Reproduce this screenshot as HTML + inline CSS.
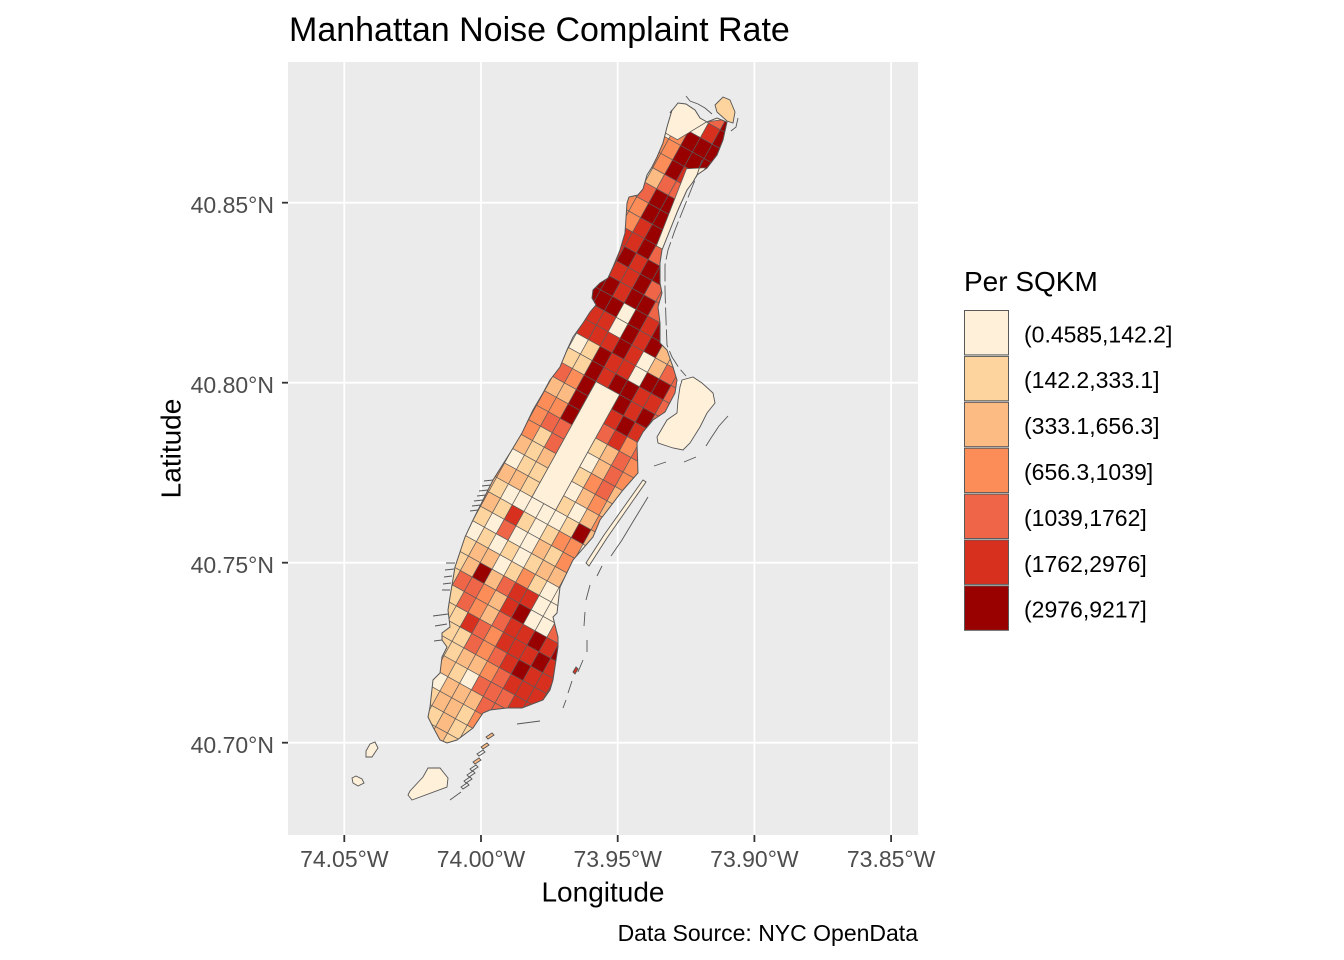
<!DOCTYPE html>
<html>
<head>
<meta charset="utf-8">
<style>
html,body{margin:0;padding:0;background:#fff;}
svg{display:block;}
.L{fill:#FEF0D9}.Y{fill:#FDD49E}.P{fill:#FDBB84}.O{fill:#FC8D59}.S{fill:#EF6548}.R{fill:#D7301F}.D{fill:#990000}
text{font-family:"Liberation Sans",Arial,sans-serif;}
</style>
</head>
<body>
<svg width="1344" height="960" viewBox="0 0 1344 960" xmlns="http://www.w3.org/2000/svg">
<defs>
<clipPath id="isl">
<path d="M670,113 L678,103 L686,104 L695,110 L700,118 L707,122 L717,118 L727,122 L723,140 L717,155 L707,168 L697,175 L693,182 L687,190 L678,210 L670,230 L662,250 L660,263 L660,283 L662,293 L658,307 L660,323 L660,343 L667,350 L673,367 L677,380 L675,393 L665,412 L653,420 L643,432 L637,443 L638,473 L623,490 L600,520 L593,537 L573,560 L560,587 L557,613 L553,617 L558,637 L558,647 L553,680 L550,690 L543,700 L522,708 L507,708 L490,710 L483,713 L473,728 L457,740 L447,743 L440,740 L433,727 L428,717 L430,707 L433,680 L440,673 L442,657 L447,647 L442,640 L442,633 L450,627 L448,610 L450,597 L455,567 L465,537 L473,520 L493,480 L510,453 L522,433 L533,410 L543,393 L550,380 L560,367 L567,350 L573,337 L583,323 L590,312 L596,305 L592,298 L593,290 L600,283 L608,278 L613,267 L620,250 L625,233 L627,203 L629,197 L638,195 L643,189 L647,175 L652,167 L657,157 L663,143 L667,127 L672,110 Z"/>
</clipPath>
</defs>

<rect x="0" y="0" width="1344" height="960" fill="#ffffff"/>

<!-- panel -->
<rect x="288" y="62" width="630" height="773" fill="#EBEBEB"/>
<g stroke="#ffffff" stroke-width="1.8">
<line x1="344.3" y1="62" x2="344.3" y2="835"/>
<line x1="481" y1="62" x2="481" y2="835"/>
<line x1="617.7" y1="62" x2="617.7" y2="835"/>
<line x1="754.4" y1="62" x2="754.4" y2="835"/>
<line x1="891.1" y1="62" x2="891.1" y2="835"/>
<line x1="288" y1="202.7" x2="918" y2="202.7"/>
<line x1="288" y1="382.7" x2="918" y2="382.7"/>
<line x1="288" y1="562.7" x2="918" y2="562.7"/>
<line x1="288" y1="742.7" x2="918" y2="742.7"/>
</g>

<!-- Manhattan -->
<g clip-path="url(#isl)">
 <g transform="translate(532 497) rotate(29)">
  <g transform="scale(13.5 16.5)">
   <rect class="L" x="-7" y="-28" width="16" height="1"/>
   <rect class="L" x="-7" y="-27" width="16" height="1"/>
   <rect class="L" x="-7" y="-26" width="5" height="1"/><rect class="S" x="-2" y="-26" width="1" height="1"/><rect class="D" x="-1" y="-26" width="10" height="1"/>
   <rect class="L" x="-7" y="-25" width="5" height="1"/><rect class="R" x="-2" y="-25" width="1" height="1"/><rect class="D" x="-1" y="-25" width="10" height="1"/>
   <rect class="L" x="-7" y="-24" width="3" height="1"/><rect class="O" x="-4" y="-24" width="1" height="1"/><rect class="D" x="-3" y="-24" width="12" height="1"/>
   <rect class="O" x="-7" y="-23" width="4" height="1"/><rect class="D" x="-3" y="-23" width="12" height="1"/>
   <rect class="O" x="-7" y="-22" width="4" height="1"/><rect class="D" x="-3" y="-22" width="1" height="1"/><rect class="R" x="-2" y="-22" width="11" height="1"/>
   <rect class="L" x="-7" y="-21" width="3" height="1"/><rect class="P" x="-4" y="-21" width="1" height="1"/><rect class="S" x="-3" y="-21" width="12" height="1"/>
   <rect class="L" x="-7" y="-20" width="3" height="1"/><rect class="S" x="-4" y="-20" width="1" height="1"/><rect class="D" x="-3" y="-20" width="12" height="1"/>
   <rect class="O" x="-7" y="-19" width="4" height="1"/><rect class="D" x="-3" y="-19" width="12" height="1"/>
   <rect class="O" x="-7" y="-18" width="4" height="1"/><rect class="R" x="-3" y="-18" width="1" height="1"/><rect class="D" x="-2" y="-18" width="1" height="1"/><rect class="S" x="-1" y="-18" width="10" height="1"/>
   <rect class="R" x="-7" y="-17" width="5" height="1"/><rect class="D" x="-2" y="-17" width="1" height="1"/><rect class="S" x="-1" y="-17" width="10" height="1"/>
   <rect class="R" x="-7" y="-16" width="4" height="1"/><rect class="D" x="-3" y="-16" width="1" height="1"/><rect class="R" x="-2" y="-16" width="1" height="1"/><rect class="D" x="-1" y="-16" width="10" height="1"/>
   <rect class="R" x="-7" y="-15" width="6" height="1"/><rect class="D" x="-1" y="-15" width="1" height="1"/><rect class="S" x="0" y="-15" width="9" height="1"/>
   <rect class="D" x="-7" y="-14" width="5" height="1"/><rect class="R" x="-2" y="-14" width="1" height="1"/><rect class="D" x="-1" y="-14" width="2" height="1"/><rect class="S" x="1" y="-14" width="8" height="1"/>
   <rect class="D" x="-7" y="-13" width="6" height="1"/><rect class="L" x="-1" y="-13" width="1" height="1"/><rect class="D" x="0" y="-13" width="1" height="1"/><rect class="R" x="1" y="-13" width="1" height="1"/><rect class="D" x="2" y="-13" width="7" height="1"/>
   <rect class="O" x="-7" y="-12" width="4" height="1"/><rect class="R" x="-3" y="-12" width="2" height="1"/><rect class="L" x="-1" y="-12" width="1" height="1"/><rect class="D" x="0" y="-12" width="1" height="1"/><rect class="R" x="1" y="-12" width="1" height="1"/><rect class="D" x="2" y="-12" width="1" height="1"/><rect class="P" x="3" y="-12" width="6" height="1"/>
   <rect class="O" x="-7" y="-11" width="4" height="1"/><rect class="R" x="-3" y="-11" width="3" height="1"/><rect class="D" x="0" y="-11" width="1" height="1"/><rect class="R" x="1" y="-11" width="1" height="1"/><rect class="L" x="2" y="-11" width="1" height="1"/><rect class="P" x="3" y="-11" width="1" height="1"/><rect class="S" x="4" y="-11" width="5" height="1"/>
   <rect class="L" x="-7" y="-10" width="5" height="1"/><rect class="Y" x="-2" y="-10" width="1" height="1"/><rect class="D" x="-1" y="-10" width="1" height="1"/><rect class="R" x="0" y="-10" width="2" height="1"/><rect class="L" x="2" y="-10" width="1" height="1"/><rect class="D" x="3" y="-10" width="2" height="1"/><rect class="S" x="5" y="-10" width="4" height="1"/>
   <rect class="L" x="-7" y="-9" width="4" height="1"/><rect class="Y" x="-3" y="-9" width="2" height="1"/><rect class="D" x="-1" y="-9" width="1" height="1"/><rect class="R" x="0" y="-9" width="1" height="1"/><rect class="D" x="1" y="-9" width="2" height="1"/><rect class="R" x="3" y="-9" width="2" height="1"/><rect class="S" x="5" y="-9" width="4" height="1"/>
   <rect class="S" x="-7" y="-8" width="5" height="1"/><rect class="O" x="-2" y="-8" width="1" height="1"/><rect class="D" x="-1" y="-8" width="1" height="1"/><rect class="L" x="0" y="-8" width="2" height="1"/><rect class="D" x="2" y="-8" width="1" height="1"/><rect class="R" x="3" y="-8" width="1" height="1"/><rect class="D" x="4" y="-8" width="1" height="1"/><rect class="S" x="5" y="-8" width="4" height="1"/>
   <rect class="O" x="-7" y="-7" width="4" height="1"/><rect class="P" x="-3" y="-7" width="2" height="1"/><rect class="D" x="-1" y="-7" width="1" height="1"/><rect class="L" x="0" y="-7" width="2" height="1"/><rect class="R" x="2" y="-7" width="1" height="1"/><rect class="D" x="3" y="-7" width="1" height="1"/><rect class="R" x="4" y="-7" width="1" height="1"/><rect class="S" x="5" y="-7" width="4" height="1"/>
   <rect class="Y" x="-7" y="-6" width="4" height="1"/><rect class="O" x="-3" y="-6" width="2" height="1"/><rect class="D" x="-1" y="-6" width="1" height="1"/><rect class="L" x="0" y="-6" width="2" height="1"/><rect class="S" x="2" y="-6" width="1" height="1"/><rect class="R" x="3" y="-6" width="1" height="1"/><rect class="O" x="4" y="-6" width="1" height="1"/><rect class="S" x="5" y="-6" width="4" height="1"/>
   <rect class="O" x="-7" y="-5" width="5" height="1"/><rect class="S" x="-2" y="-5" width="2" height="1"/><rect class="L" x="0" y="-5" width="2" height="1"/><rect class="Y" x="2" y="-5" width="1" height="1"/><rect class="P" x="3" y="-5" width="1" height="1"/><rect class="S" x="4" y="-5" width="1" height="1"/><rect class="O" x="5" y="-5" width="4" height="1"/>
   <rect class="P" x="-7" y="-4" width="4" height="1"/><rect class="O" x="-3" y="-4" width="1" height="1"/><rect class="Y" x="-2" y="-4" width="1" height="1"/><rect class="S" x="-1" y="-4" width="1" height="1"/><rect class="L" x="0" y="-4" width="3" height="1"/><rect class="P" x="3" y="-4" width="1" height="1"/><rect class="S" x="4" y="-4" width="1" height="1"/><rect class="O" x="5" y="-4" width="4" height="1"/>
   <rect class="P" x="-7" y="-3" width="5" height="1"/><rect class="Y" x="-2" y="-3" width="1" height="1"/><rect class="P" x="-1" y="-3" width="1" height="1"/><rect class="L" x="0" y="-3" width="2" height="1"/><rect class="Y" x="2" y="-3" width="1" height="1"/><rect class="O" x="3" y="-3" width="1" height="1"/><rect class="S" x="4" y="-3" width="1" height="1"/><rect class="P" x="5" y="-3" width="4" height="1"/>
   <rect class="L" x="-7" y="-2" width="5" height="1"/><rect class="Y" x="-2" y="-2" width="2" height="1"/><rect class="L" x="0" y="-2" width="3" height="1"/><rect class="P" x="3" y="-2" width="1" height="1"/><rect class="O" x="4" y="-2" width="1" height="1"/><rect class="P" x="5" y="-2" width="4" height="1"/>
   <rect class="O" x="-7" y="-1" width="4" height="1"/><rect class="P" x="-3" y="-1" width="2" height="1"/><rect class="Y" x="-1" y="-1" width="1" height="1"/><rect class="L" x="0" y="-1" width="2" height="1"/><rect class="Y" x="2" y="-1" width="1" height="1"/><rect class="L" x="3" y="-1" width="1" height="1"/><rect class="P" x="4" y="-1" width="1" height="1"/><rect class="O" x="5" y="-1" width="4" height="1"/>
   <rect class="P" x="-7" y="0" width="4" height="1"/><rect class="Y" x="-3" y="0" width="1" height="1"/><rect class="L" x="-2" y="0" width="5" height="1"/><rect class="Y" x="3" y="0" width="1" height="1"/><rect class="D" x="4" y="0" width="1" height="1"/><rect class="P" x="5" y="0" width="4" height="1"/>
   <rect class="O" x="-7" y="1" width="4" height="1"/><rect class="P" x="-3" y="1" width="1" height="1"/><rect class="Y" x="-2" y="1" width="1" height="1"/><rect class="R" x="-1" y="1" width="1" height="1"/><rect class="Y" x="0" y="1" width="1" height="1"/><rect class="L" x="1" y="1" width="1" height="1"/><rect class="Y" x="2" y="1" width="1" height="1"/><rect class="O" x="3" y="1" width="2" height="1"/><rect class="L" x="5" y="1" width="4" height="1"/>
   <rect class="P" x="-7" y="2" width="4" height="1"/><rect class="Y" x="-3" y="2" width="1" height="1"/><rect class="L" x="-2" y="2" width="1" height="1"/><rect class="S" x="-1" y="2" width="1" height="1"/><rect class="L" x="0" y="2" width="2" height="1"/><rect class="P" x="2" y="2" width="1" height="1"/><rect class="Y" x="3" y="2" width="1" height="1"/><rect class="O" x="4" y="2" width="5" height="1"/>
   <rect class="L" x="-7" y="3" width="5" height="1"/><rect class="Y" x="-2" y="3" width="1" height="1"/><rect class="L" x="-1" y="3" width="1" height="1"/><rect class="Y" x="0" y="3" width="1" height="1"/><rect class="L" x="1" y="3" width="1" height="1"/><rect class="Y" x="2" y="3" width="1" height="1"/><rect class="P" x="3" y="3" width="6" height="1"/>
   <rect class="Y" x="-7" y="4" width="5" height="1"/><rect class="P" x="-2" y="4" width="2" height="1"/><rect class="L" x="0" y="4" width="1" height="1"/><rect class="Y" x="1" y="4" width="1" height="1"/><rect class="O" x="2" y="4" width="1" height="1"/><rect class="Y" x="3" y="4" width="1" height="1"/><rect class="L" x="4" y="4" width="5" height="1"/>
   <rect class="Y" x="-7" y="5" width="5" height="1"/><rect class="P" x="-2" y="5" width="1" height="1"/><rect class="D" x="-1" y="5" width="1" height="1"/><rect class="P" x="0" y="5" width="1" height="1"/><rect class="S" x="1" y="5" width="1" height="1"/><rect class="R" x="2" y="5" width="2" height="1"/><rect class="L" x="4" y="5" width="5" height="1"/>
   <rect class="Y" x="-7" y="6" width="5" height="1"/><rect class="S" x="-2" y="6" width="2" height="1"/><rect class="O" x="0" y="6" width="1" height="1"/><rect class="P" x="1" y="6" width="1" height="1"/><rect class="R" x="2" y="6" width="1" height="1"/><rect class="D" x="3" y="6" width="1" height="1"/><rect class="L" x="4" y="6" width="2" height="1"/><rect class="S" x="6" y="6" width="3" height="1"/>
   <rect class="Y" x="-7" y="7" width="6" height="1"/><rect class="S" x="-1" y="7" width="1" height="1"/><rect class="O" x="0" y="7" width="1" height="1"/><rect class="P" x="1" y="7" width="1" height="1"/><rect class="S" x="2" y="7" width="1" height="1"/><rect class="R" x="3" y="7" width="2" height="1"/><rect class="D" x="5" y="7" width="1" height="1"/><rect class="R" x="6" y="7" width="1" height="1"/><rect class="D" x="7" y="7" width="2" height="1"/>
   <rect class="Y" x="-7" y="8" width="7" height="1"/><rect class="R" x="0" y="8" width="1" height="1"/><rect class="S" x="1" y="8" width="1" height="1"/><rect class="O" x="2" y="8" width="1" height="1"/><rect class="R" x="3" y="8" width="3" height="1"/><rect class="D" x="6" y="8" width="1" height="1"/><rect class="R" x="7" y="8" width="2" height="1"/>
   <rect class="Y" x="-7" y="9" width="8" height="1"/><rect class="S" x="1" y="9" width="1" height="1"/><rect class="O" x="2" y="9" width="1" height="1"/><rect class="S" x="3" y="9" width="1" height="1"/><rect class="R" x="4" y="9" width="1" height="1"/><rect class="D" x="5" y="9" width="1" height="1"/><rect class="R" x="6" y="9" width="3" height="1"/>
   <rect class="Y" x="-7" y="10" width="8" height="1"/><rect class="P" x="1" y="10" width="2" height="1"/><rect class="O" x="3" y="10" width="1" height="1"/><rect class="S" x="4" y="10" width="1" height="1"/><rect class="R" x="5" y="10" width="4" height="1"/>
   <rect class="P" x="-7" y="11" width="8" height="1"/><rect class="Y" x="1" y="11" width="1" height="1"/><rect class="L" x="2" y="11" width="1" height="1"/><rect class="S" x="3" y="11" width="3" height="1"/><rect class="R" x="6" y="11" width="3" height="1"/>
   <rect class="L" x="-7" y="12" width="8" height="1"/><rect class="P" x="1" y="12" width="3" height="1"/><rect class="S" x="4" y="12" width="5" height="1"/>
   <rect class="Y" x="-7" y="13" width="8" height="1"/><rect class="P" x="1" y="13" width="2" height="1"/><rect class="Y" x="3" y="13" width="1" height="1"/><rect class="O" x="4" y="13" width="5" height="1"/>
   <rect class="Y" x="-7" y="14" width="9" height="1"/><rect class="P" x="2" y="14" width="1" height="1"/><rect class="Y" x="3" y="14" width="6" height="1"/>
   <rect class="Y" x="-7" y="15" width="9" height="1"/><rect class="P" x="2" y="15" width="1" height="1"/><rect class="Y" x="3" y="15" width="6" height="1"/>
   <rect class="Y" x="-7" y="16" width="16" height="1"/>
   <path fill="none" stroke="#5a5a5a" stroke-width="0.75" vector-effect="non-scaling-stroke" d="M-7 -28V17M-6 -28V17M-5 -28V17M-4 -28V17M-3 -28V17M-2 -28V17M-1 -28V17M0 -28V17M1 -28V17M2 -28V17M3 -28V17M4 -28V17M5 -28V17M6 -28V17M7 -28V17M8 -28V17M9 -28V17M-8 -28H10M-8 -27H10M-8 -26H10M-8 -25H10M-8 -24H10M-8 -23H10M-8 -22H10M-8 -21H10M-8 -20H10M-8 -19H10M-8 -18H10M-8 -17H10M-8 -16H10M-8 -15H10M-8 -14H10M-8 -13H10M-8 -12H10M-8 -11H10M-8 -10H10M-8 -9H10M-8 -8H10M-8 -7H10M-8 -6H10M-8 -5H10M-8 -4H10M-8 -3H10M-8 -2H10M-8 -1H10M-8 0H10M-8 1H10M-8 2H10M-8 3H10M-8 4H10M-8 5H10M-8 6H10M-8 7H10M-8 8H10M-8 9H10M-8 10H10M-8 11H10M-8 12H10M-8 13H10M-8 14H10M-8 15H10M-8 16H10M-8 17H10"/>
  </g>
  <!-- parks -->
  <polygon class="L" stroke="#5a5a5a" stroke-width="0.8" points="-80,-445 0,-445 -14,-424 -29,-413 -46,-383 -80,-383"/>
  <polygon class="L" stroke="#5a5a5a" stroke-width="0.8" points="-24,-362 -8,-372 0,-280 -13,-280"/>
  <rect class="L" stroke="#5a5a5a" stroke-width="0.8" x="0" y="-132" width="27" height="132"/>
 </g>
</g>
<!-- island outline -->
<path fill="none" stroke="#555555" stroke-width="1" d="M670,113 L678,103 L686,104 L695,110 L700,118 L707,122 L717,118 L727,122 L723,140 L717,155 L707,168 L697,175 L693,182 L687,190 L678,210 L670,230 L662,250 L660,263 L660,283 L662,293 L658,307 L660,323 L660,343 L667,350 L673,367 L677,380 L675,393 L665,412 L653,420 L643,432 L637,443 L638,473 L623,490 L600,520 L593,537 L573,560 L560,587 L557,613 L553,617 L558,637 L558,647 L553,680 L550,690 L543,700 L522,708 L507,708 L490,710 L483,713 L473,728 L457,740 L447,743 L440,740 L433,727 L428,717 L430,707 L433,680 L440,673 L442,657 L447,647 L442,640 L442,633 L450,627 L448,610 L450,597 L455,567 L465,537 L473,520 L493,480 L510,453 L522,433 L533,410 L543,393 L550,380 L560,367 L567,350 L573,337 L583,323 L590,312 L596,305 L592,298 L593,290 L600,283 L608,278 L613,267 L620,250 L625,233 L627,203 L629,197 L638,195 L643,189 L647,175 L652,167 L657,157 L663,143 L667,127 L672,110 Z"/>

<!-- other islands -->
<g stroke="#555555" stroke-width="0.9">
<polygon class="Y" points="715,105 723,97 730,100 735,112 733,123 727,121 717,112"/>
<polygon class="L" points="682,380 693,377 702,383 713,393 715,403 707,413 700,427 690,443 683,450 673,448 658,443 657,437 667,420 677,413 678,400 680,387"/>
<polygon class="L" points="646,482 643,480 604,535 586,563 589,566 607,538"/>
<polygon class="L" points="408,795 412,800 447,787 448,778 440,768 428,768 423,777 410,791"/>
<polygon class="L" points="366,751 370,744 375,742 378,748 372,757 366,757"/>
<polygon class="L" points="352,778 356,776 362,779 364,783 358,786 353,783"/>
<polygon class="P" points="486,737 492,733 494,735 488,739"/>
<polygon class="P" points="481,747 487,743 489,745 483,749"/>
<polygon fill="none" points="477,754 483,750 485,752 479,756"/>
<polygon class="P" points="473,762 479,758 481,760 475,764"/>
<polygon fill="none" points="470,769 476,765 478,767 472,771"/>
<polygon fill="none" points="467,775 473,771 475,773 469,777"/>
<polygon fill="none" points="464,781 470,777 472,779 466,783"/>
<polygon fill="none" points="461,787 467,783 469,785 463,789"/>
<polygon class="R" points="573,672 576,667 578,669 575,674"/>
</g>
<g fill="none" stroke="#555555" stroke-width="0.9">
<path d="M686 96 L690 101 L698 104 L705 108 L712 114"/>
<path d="M738 118 L736 127 L731 131"/>
<path stroke-dasharray="18 4" d="M702 160 L697 175 L691 190 L683 210 L675 230 L668 250 L665 265 L665 290 L666 320 L667 345 L672 357 L679 368 L686 376"/>
<path d="M728 416 L719 426 L711 438 L706 446"/>
<path d="M696 457 L684 462 M666 462 L654 466"/>
<path d="M648 497 L634 520 L622 540 L611 556"/>
<path d="M602 566 L597 576 M590 585 L586 600 M585 612 L584 626 M587 640 L587 652 M583 660 L578 672 M572 681 L568 693 M566 700 L563 708"/>
<path d="M517 724 L540 721 M450 800 L461 792"/>
<path d="M484 481 L493 480 M482 486 L491 485 M479 491 L488 490 M477 496 L486 495 M474 501 L483 500 M472 506 L481 505 M470 511 L478 510"/>
<path d="M446 563 L455 563 M445 570 L454 569 M444 577 L452 576 M443 584 L451 583 M442 590 L450 590"/>
<path d="M433 616 L448 614 M435 626 L447 624 M434 641 L442 640"/>
</g>

<!-- ticks -->
<g stroke="#333333" stroke-width="1.8">
<line x1="282" y1="202.7" x2="288" y2="202.7"/>
<line x1="282" y1="382.7" x2="288" y2="382.7"/>
<line x1="282" y1="562.7" x2="288" y2="562.7"/>
<line x1="282" y1="742.7" x2="288" y2="742.7"/>
<line x1="344.3" y1="835" x2="344.3" y2="842"/>
<line x1="481" y1="835" x2="481" y2="842"/>
<line x1="617.7" y1="835" x2="617.7" y2="842"/>
<line x1="754.4" y1="835" x2="754.4" y2="842"/>
<line x1="891.1" y1="835" x2="891.1" y2="842"/>
</g>

<!-- tick labels -->
<g fill="#4D4D4D" font-size="23" text-anchor="end">
<text x="274" y="213">40.85°N</text>
<text x="274" y="393">40.80°N</text>
<text x="274" y="573">40.75°N</text>
<text x="274" y="753">40.70°N</text>
</g>
<g fill="#4D4D4D" font-size="23" text-anchor="middle">
<text x="344.3" y="867">74.05°W</text>
<text x="481" y="867">74.00°W</text>
<text x="617.7" y="867">73.95°W</text>
<text x="754.4" y="867">73.90°W</text>
<text x="891.1" y="867">73.85°W</text>
</g>

<!-- axis titles -->
<text x="603" y="901.5" font-size="28" text-anchor="middle" fill="#000">Longitude</text>
<text transform="translate(180.5 448.5) rotate(-90)" font-size="28" text-anchor="middle" fill="#000">Latitude</text>

<!-- title & caption -->
<text x="289" y="41" font-size="34" fill="#000">Manhattan Noise Complaint Rate</text>
<text x="918" y="941" font-size="23" text-anchor="end" fill="#000">Data Source: NYC OpenData</text>

<!-- legend -->
<text x="964" y="291" font-size="28" fill="#000">Per SQKM</text>
<g stroke="#595959" stroke-width="1">
<rect class="L" x="964.5" y="310.5" width="44" height="44.4"/>
<rect class="Y" x="964.5" y="356.4" width="44" height="44.4"/>
<rect class="P" x="964.5" y="402.3" width="44" height="44.4"/>
<rect class="O" x="964.5" y="448.2" width="44" height="44.4"/>
<rect class="S" x="964.5" y="494.1" width="44" height="44.4"/>
<rect class="R" x="964.5" y="540" width="44" height="44.4"/>
<rect class="D" x="964.5" y="585.9" width="44" height="44.4"/>
</g>
<g font-size="23" fill="#000">
<text x="1024" y="342.3">(0.4585,142.2]</text>
<text x="1024" y="388.2">(142.2,333.1]</text>
<text x="1024" y="434.1">(333.1,656.3]</text>
<text x="1024" y="480">(656.3,1039]</text>
<text x="1024" y="525.9">(1039,1762]</text>
<text x="1024" y="571.8">(1762,2976]</text>
<text x="1024" y="617.7">(2976,9217]</text>
</g>
</svg>
</body>
</html>
